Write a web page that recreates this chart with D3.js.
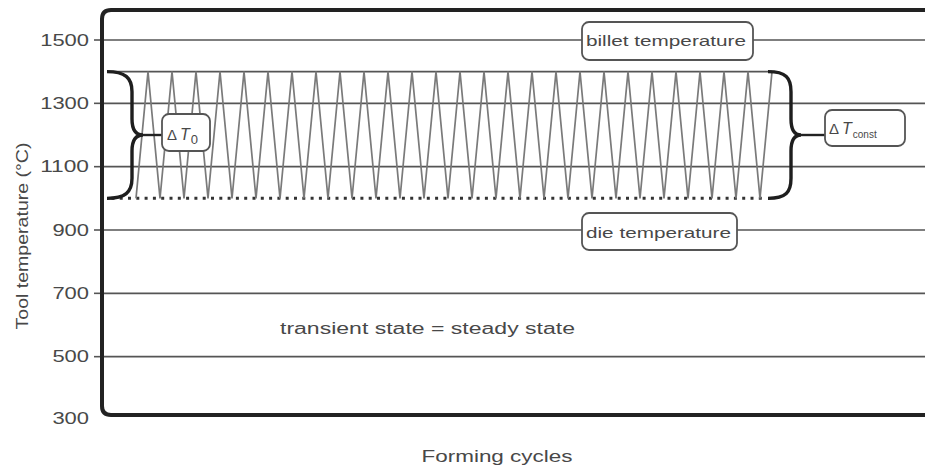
<!DOCTYPE html>
<html>
<head>
<meta charset="utf-8">
<script src="https://cdn.jsdelivr.net/npm/d3@7"></script>
<style>
  html, body { margin: 0; padding: 0; background: #fff; }
  svg { display: block; }
  text { font-family: "Liberation Sans", Arial, sans-serif; }
</style>
</head>
<body>
<svg id="chart" width="925" height="470"></svg>
<script>
// ---------- data ----------
const yTickValues = [300, 500, 700, 900, 1100, 1300, 1500];
const gridLevels = [500, 700, 900, 1100, 1300, 1500];
const billetTemperature = 1500;
const dieTemperature = 900;
const peakTemperature = 1400;
const troughTemperature = 1000;
// tool temperature at every half forming cycle (trough, peak, trough, peak, ...)
const toolTemps = [
  1000, 1400, 1000, 1400, 1000, 1400, 1000, 1400, 1000, 1400,
  1000, 1400, 1000, 1400, 1000, 1400, 1000, 1400, 1000, 1400,
  1000, 1400, 1000, 1400, 1000, 1400, 1000, 1400, 1000, 1400,
  1000, 1400, 1000, 1400, 1000, 1400, 1000, 1400, 1000, 1400,
  1000, 1400, 1000, 1400, 1000, 1400, 1000, 1400, 1000, 1400,
  1000, 1400, 1000, 1400
];
const cyclePositions = toolTemps.map((d, i) => i / 2);
const levelStartCycle = -1.15;   // where the band lines begin (in cycles)
const levelEndCycle = 26.5;
const dottedEndCycle = 26.2;

const texts = {
  yTitle: "Tool temperature (°C)",
  xTitle: "Forming cycles",
  billet: "billet temperature",
  die: "die temperature",
  note: "transient state = steady state"
};

// ---------- layout ----------
const svg = d3.select("#chart");
const frameLeft = 102, frameTop = 10, frameBottom = 415, frameRight = 940;
const y = d3.scaleLinear().domain([300, 1500]).range([420, 40]);
const x = d3.scaleLinear().domain([0, 26.5]).range([136, 772]);

const gridColor = "#555";
const textColor = "#484848";

function fit(sel, len) {
  sel.attr("textLength", len).attr("lengthAdjust", "spacingAndGlyphs");
  return sel;
}

// gridlines
svg.append("g").selectAll("line").data(gridLevels).join("line")
  .attr("x1", frameLeft).attr("x2", 925)
  .attr("y1", d => y(d)).attr("y2", d => y(d))
  .attr("stroke", gridColor).attr("stroke-width", 1.6);

// upper band line (peak level) and dotted lower band line
svg.append("line")
  .attr("x1", x(levelStartCycle)).attr("x2", x(levelEndCycle))
  .attr("y1", y(peakTemperature)).attr("y2", y(peakTemperature))
  .attr("stroke", gridColor).attr("stroke-width", 1.6);

svg.append("line")
  .attr("x1", x(levelStartCycle) + 3).attr("x2", x(dottedEndCycle))
  .attr("y1", y(troughTemperature)).attr("y2", y(troughTemperature))
  .attr("stroke", "#333").attr("stroke-width", 3)
  .attr("stroke-dasharray", "3,5.3");

// zigzag
const line = d3.line().x((d, i) => x(cyclePositions[i])).y(d => y(d));
svg.append("path").datum(toolTemps)
  .attr("d", line)
  .attr("fill", "none").attr("stroke", "#7a7a7a").attr("stroke-width", 1.7)
  .attr("stroke-linejoin", "miter");

// y ticks + labels
const yAxis = svg.append("g");
yAxis.selectAll("line").data(gridLevels).join("line")
  .attr("x1", 94).attr("x2", frameLeft)
  .attr("y1", d => y(d)).attr("y2", d => y(d))
  .attr("stroke", gridColor).attr("stroke-width", 1.6);
yAxis.selectAll("text").data(yTickValues).join("text")
  .attr("x", 89).attr("y", d => y(d) + (d === 300 ? -2 : 0))
  .attr("dy", "0.36em")
  .attr("text-anchor", "end")
  .attr("font-size", 16).attr("fill", textColor)
  .text(d => d)
  .each(function(d) { fit(d3.select(this), String(d).length * 12.2); });

// frame (left, top, bottom with rounded corners)
const r = 9;
svg.append("path")
  .attr("d", `M${frameRight},${frameTop} L${frameLeft + r},${frameTop} Q${frameLeft},${frameTop} ${frameLeft},${frameTop + r}
              L${frameLeft},${frameBottom - r} Q${frameLeft},${frameBottom} ${frameLeft + r},${frameBottom} L${frameRight},${frameBottom}`)
  .attr("fill", "none").attr("stroke", "#222").attr("stroke-width", 4);

// braces
function brace(xEnd, xMid, xTip, yTop, yBot) {
  const ym = (yTop + yBot) / 2;
  const s = Math.sign(xMid - xEnd);
  return `M${xEnd},${yTop} C${xEnd + s*18},${yTop} ${xMid},${yTop + 6} ${xMid},${yTop + 20}
          L${xMid},${ym - 16} C${xMid},${ym - 5} ${xMid + s*4},${ym} ${xTip},${ym}
          C${xMid + s*4},${ym} ${xMid},${ym + 5} ${xMid},${ym + 16}
          L${xMid},${yBot - 20} C${xMid},${yBot - 6} ${xEnd + s*18},${yBot} ${xEnd},${yBot}`;
}
const yTopB = y(peakTemperature), yBotB = y(troughTemperature);
svg.append("path").attr("d", brace(107, 132, 143, yTopB, yBotB))
  .attr("fill", "none").attr("stroke", "#1e1e1e").attr("stroke-width", 3.4);
svg.append("path").attr("d", brace(768, 791, 801, yTopB, yBotB))
  .attr("fill", "none").attr("stroke", "#1e1e1e").attr("stroke-width", 3.4);

// connectors
const yMidB = (yTopB + yBotB) / 2;
svg.append("line").attr("x1", 143).attr("x2", 162).attr("y1", yMidB).attr("y2", yMidB)
  .attr("stroke", "#222").attr("stroke-width", 2.4);
svg.append("line").attr("x1", 801).attr("x2", 825).attr("y1", yMidB).attr("y2", yMidB)
  .attr("stroke", "#222").attr("stroke-width", 2.4);

// label boxes
function box(x0, y0, w, h) {
  svg.append("rect").attr("x", x0).attr("y", y0).attr("width", w).attr("height", h)
    .attr("rx", 7).attr("ry", 7)
    .attr("fill", "#fff").attr("stroke", "#555").attr("stroke-width", 1.8);
}
box(582, y(billetTemperature) - 18, 171, 38);
fit(svg.append("text").attr("x", 586).attr("y", y(billetTemperature) + 6)
  .attr("font-size", 15).attr("fill", textColor).text(texts.billet), 160);

box(582, y(dieTemperature) - 17, 155, 37);
fit(svg.append("text").attr("x", 586).attr("y", y(dieTemperature) + 8)
  .attr("font-size", 15).attr("fill", textColor).text(texts.die), 145);

// ΔT0
box(162, yMidB - 21, 48, 37);
const t0 = svg.append("text").attr("x", 167).attr("y", yMidB + 5)
  .attr("font-size", 15).attr("fill", textColor);
t0.append("tspan").text("Δ");
t0.append("tspan").attr("dx", 3).attr("font-style", "italic").attr("font-size", 16).text("T");
t0.append("tspan").attr("dy", 4).attr("dx", 1).attr("font-size", 13).text("0");

// ΔTconst
box(825, yMidB - 25, 80, 36);
const tc = svg.append("text").attr("x", 829).attr("y", yMidB - 1)
  .attr("font-size", 15).attr("fill", textColor);
tc.append("tspan").text("Δ");
tc.append("tspan").attr("dx", 3).attr("font-style", "italic").attr("font-size", 16).text("T");
tc.append("tspan").attr("dy", 4).attr("dx", 1).attr("font-size", 10).text("const");

// annotation
fit(svg.append("text").attr("x", 280).attr("y", 334)
  .attr("font-size", 16).attr("fill", textColor).text(texts.note), 295);

// axis titles
fit(svg.append("text").attr("x", 497).attr("y", 462).attr("text-anchor", "middle")
  .attr("font-size", 17).attr("fill", textColor).text(texts.xTitle), 151);
fit(svg.append("text").attr("transform", "translate(28,236) rotate(-90)")
  .attr("text-anchor", "middle")
  .attr("font-size", 16).attr("fill", textColor).text(texts.yTitle), 187);
</script>
</body>
</html>
